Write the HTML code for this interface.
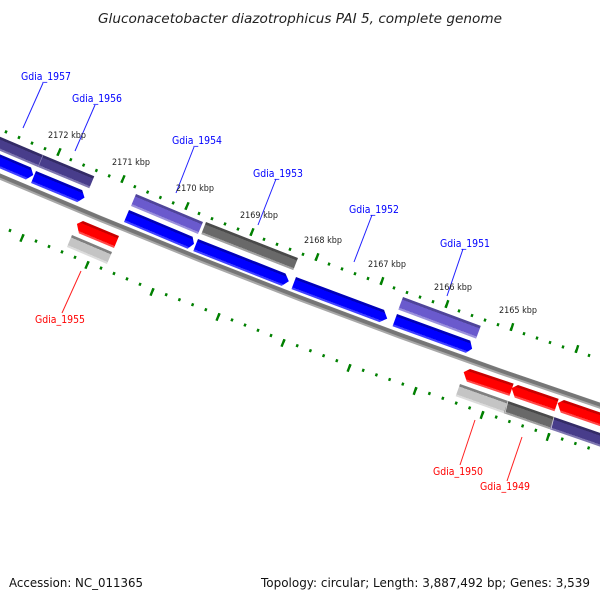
<!DOCTYPE html>
<html><head><meta charset="utf-8">
<style>
html,body{margin:0;padding:0;background:#fff;width:600px;height:600px;overflow:hidden}
svg{display:block}
text{font-family:"DejaVu Sans","Liberation Sans",sans-serif}
.b{fill:#0000ff;font-size:11px}
.r{fill:#ff0000;font-size:11px}
.k{fill:#222;font-size:8.5px}
.f{fill:#111;font-size:12.5px}
.m path{fill:none;stroke:#008000;stroke-width:3;stroke-dasharray:.17 .83;stroke-dashoffset:.085}
</style></head><body>
<svg width="600" height="600" viewBox="0 0 600 600" xmlns="http://www.w3.org/2000/svg">
<defs>
<linearGradient id="gb" x1="0" y1="0" x2="0" y2="1"><stop offset="0" stop-color="#0000b8"/><stop offset=".2" stop-color="#0000b8"/><stop offset=".2" stop-color="#0000ff"/><stop offset=".84" stop-color="#0000ff"/><stop offset=".84" stop-color="#4040ff"/><stop offset="1" stop-color="#4040ff"/></linearGradient>
<linearGradient id="gr" x1="0" y1="0" x2="0" y2="1"><stop offset="0" stop-color="#c80000"/><stop offset=".2" stop-color="#c80000"/><stop offset=".2" stop-color="#ff0000"/><stop offset=".84" stop-color="#ff0000"/><stop offset=".84" stop-color="#ff4848"/><stop offset="1" stop-color="#ff4848"/></linearGradient>
<linearGradient id="gp" x1="0" y1="0" x2="0" y2="1"><stop offset="0" stop-color="#4f4499"/><stop offset=".2" stop-color="#4f4499"/><stop offset=".2" stop-color="#6a5acd"/><stop offset=".84" stop-color="#6a5acd"/><stop offset=".84" stop-color="#9a90dc"/><stop offset="1" stop-color="#9a90dc"/></linearGradient>
<linearGradient id="gd" x1="0" y1="0" x2="0" y2="1"><stop offset="0" stop-color="#332b66"/><stop offset=".2" stop-color="#332b66"/><stop offset=".2" stop-color="#483d8b"/><stop offset=".84" stop-color="#483d8b"/><stop offset=".84" stop-color="#7e76b0"/><stop offset="1" stop-color="#7e76b0"/></linearGradient>
<linearGradient id="gg" x1="0" y1="0" x2="0" y2="1"><stop offset="0" stop-color="#4a4a4a"/><stop offset=".2" stop-color="#4a4a4a"/><stop offset=".2" stop-color="#696969"/><stop offset=".84" stop-color="#696969"/><stop offset=".84" stop-color="#a0a0a0"/><stop offset="1" stop-color="#a0a0a0"/></linearGradient>
<linearGradient id="gl" x1="0" y1="0" x2="0" y2="1"><stop offset="0" stop-color="#808080"/><stop offset=".2" stop-color="#808080"/><stop offset=".2" stop-color="#c4c4c4"/><stop offset=".84" stop-color="#c4c4c4"/><stop offset=".84" stop-color="#dcdcdc"/><stop offset="1" stop-color="#dcdcdc"/></linearGradient>
</defs>

<text x="300" y="23" text-anchor="middle" font-size="13" font-style="italic" fill="#222" textLength="404" lengthAdjust="spacingAndGlyphs">Gluconacetobacter diazotrophicus PAI 5, complete genome</text>

<!-- backbone -->
<polyline points="-5,174.5 100,218.7 200,259.3 300,298.3 400,335.7 500,371.5 600,405.7 610,409" fill="none" stroke="#a8a8a8" stroke-width="6"/>
<polyline points="-5,173.5 100,217.7 200,258.3 300,297.3 400,334.7 500,370.5 600,404.7 610,408" fill="none" stroke="#767676" stroke-width="3.8"/>

<!-- minor ticks -->
<g class="m">
<path pathLength="5" d="M-7,126.3L58,154.3"/>
<path pathLength="5" d="M58,154.3L122,181.3"/>
<path pathLength="5" d="M122,181.3L186,208.3"/>
<path pathLength="5" d="M186,208.3L251,234.3"/>
<path pathLength="5" d="M251,234.3L316,259.3"/>
<path pathLength="5" d="M316,259.3L381,283.3"/>
<path pathLength="5" d="M381,283.3L446,306.3"/>
<path pathLength="5" d="M446,306.3L511,329.3"/>
<path pathLength="5" d="M511,329.3L576,351.3"/>
<path pathLength="5" d="M576,351.3L641,372"/>
<path pathLength="5" d="M-42,209.7L23,235.7"/>
<path pathLength="5" d="M23,235.7L88,262.7"/>
<path pathLength="5" d="M88,262.7L153,289.7"/>
<path pathLength="5" d="M153,289.7L219,314.7"/>
<path pathLength="5" d="M219,314.7L284,340.7"/>
<path pathLength="5" d="M284,340.7L350,365.7"/>
<path pathLength="5" d="M350,365.7L416,388.7"/>
<path pathLength="5" d="M416,388.7L483,412.7"/>
<path pathLength="5" d="M483,412.7L549,434.7"/>
<path pathLength="5" d="M549,434.7L615,456.7"/>
</g>

<!-- major ticks -->
<g stroke="#008000" stroke-width="2.4">
<line x1="60.6" y1="148.3" x2="57.4" y2="155.7"/>
<line x1="124.6" y1="175.3" x2="121.4" y2="182.7"/>
<line x1="188.6" y1="202.3" x2="185.4" y2="209.7"/>
<line x1="253.5" y1="228.3" x2="250.5" y2="235.7"/>
<line x1="318.4" y1="253.3" x2="315.6" y2="260.7"/>
<line x1="383.3" y1="277.2" x2="380.7" y2="284.8"/>
<line x1="448.3" y1="300.2" x2="445.7" y2="307.8"/>
<line x1="513.2" y1="323.2" x2="510.8" y2="330.8"/>
<line x1="578.2" y1="345.2" x2="575.8" y2="352.8"/>
<line x1="23.6" y1="234.3" x2="20.4" y2="241.7"/>
<line x1="88.6" y1="261.3" x2="85.4" y2="268.7"/>
<line x1="153.5" y1="288.3" x2="150.5" y2="295.7"/>
<line x1="219.5" y1="313.3" x2="216.5" y2="320.7"/>
<line x1="284.5" y1="339.3" x2="281.5" y2="346.7"/>
<line x1="350.4" y1="364.3" x2="347.6" y2="371.7"/>
<line x1="416.3" y1="387.2" x2="413.7" y2="394.8"/>
<line x1="483.3" y1="411.2" x2="480.7" y2="418.8"/>
<line x1="549.2" y1="433.2" x2="546.8" y2="440.8"/>
</g>

<!-- upper strand genes -->
<rect transform="translate(43,155) rotate(23)" x="-70" y="0" width="70" height="13" fill="url(#gd)"/>
<rect transform="translate(43,155) rotate(22.5)" x="0" y="0" width="55.5" height="13" fill="url(#gd)"/>
<line x1="43" y1="155" x2="38" y2="167" stroke="#8f88bb" stroke-width="0.7"/>
<rect transform="translate(136,194) rotate(22.7)" width="72.6" height="13" fill="url(#gp)"/>
<rect transform="translate(206,222) rotate(21.4)" width="98.8" height="13" fill="url(#gg)"/>
<rect transform="translate(403,297) rotate(20.4)" width="83" height="13.5" fill="url(#gp)"/>

<polygon transform="translate(31,167.5) rotate(23)" points="-60,0 0,0 5,6 0,13 -60,13" fill="url(#gb)"/>
<polygon transform="translate(36,171) rotate(22.5)" points="0,0 50,0 55,6 50,13 0,13" fill="url(#gb)"/>
<polygon transform="translate(129,210) rotate(22.8)" points="0,0 69,0 73,6 69,13 0,13" fill="url(#gb)"/>
<polygon transform="translate(198,239) rotate(21.5)" points="0,0 94,0 100,6 95,13 0,13" fill="url(#gb)"/>
<polygon transform="translate(296,277) rotate(20.5)" points="0,0 94,0 100,7 94,13 0,13" fill="url(#gb)"/>
<polygon transform="translate(397,314) rotate(20)" points="0,0 78,0 82.5,7 78,13 0,13" fill="url(#gb)"/>

<!-- lower strand genes -->
<polygon transform="translate(83,221) rotate(22.6)" points="0,0 39,0 39,13 1,13 -4.5,5" fill="url(#gr)"/>
<polygon transform="translate(470,369) rotate(18.5)" points="0,0 46,0 46,13 1,13 -5,5" fill="url(#gr)"/>
<polygon transform="translate(518,385) rotate(18.9)" points="0,0 43,0 43,13 1,13 -5,5" fill="url(#gr)"/>
<polygon transform="translate(564,400) rotate(19)" points="0,0 45,0 45,13 1,13 -5,5" fill="url(#gr)"/>

<rect transform="translate(72,235) rotate(23)" width="43.5" height="13" fill="url(#gl)"/>
<rect transform="translate(460,384) rotate(19.5)" width="51" height="13" fill="url(#gl)"/>
<rect transform="translate(508,401) rotate(19.2)" width="48.7" height="13" fill="url(#gg)"/>
<rect transform="translate(554,417) rotate(19)" width="60" height="13" fill="url(#gd)"/>
<line x1="508" y1="401" x2="505" y2="413" stroke="#dcdcdc" stroke-width="0.7"/>
<line x1="554" y1="417" x2="551" y2="429" stroke="#dcdcdc" stroke-width="0.7"/>

<!-- leaders -->
<g stroke="#2020ff" stroke-width="1">
<line x1="43" y1="83" x2="23" y2="128"/>
<line x1="95" y1="105" x2="75" y2="151"/>
<line x1="194" y1="147" x2="176" y2="193"/>
<line x1="276" y1="179" x2="258" y2="225"/>
<line x1="372" y1="215" x2="354" y2="262"/>
<line x1="463" y1="249" x2="447" y2="296"/>
</g>
<g stroke="#ff2020" stroke-width="1">
<line x1="81" y1="271" x2="62" y2="313"/>
<line x1="475" y1="420" x2="460" y2="465"/>
<line x1="522" y1="437" x2="507" y2="481"/>
</g>

<!-- labels -->
<text class="b" x="21" y="80" textLength="50" lengthAdjust="spacingAndGlyphs">Gdia_1957</text>
<text class="b" x="72" y="102" textLength="50" lengthAdjust="spacingAndGlyphs">Gdia_1956</text>
<text class="b" x="172" y="144" textLength="50" lengthAdjust="spacingAndGlyphs">Gdia_1954</text>
<text class="b" x="253" y="177" textLength="50" lengthAdjust="spacingAndGlyphs">Gdia_1953</text>
<text class="b" x="349" y="213" textLength="50" lengthAdjust="spacingAndGlyphs">Gdia_1952</text>
<text class="b" x="440" y="247" textLength="50" lengthAdjust="spacingAndGlyphs">Gdia_1951</text>
<text class="r" x="35" y="323" textLength="50" lengthAdjust="spacingAndGlyphs">Gdia_1955</text>
<text class="r" x="433" y="475" textLength="50" lengthAdjust="spacingAndGlyphs">Gdia_1950</text>
<text class="r" x="480" y="490" textLength="50" lengthAdjust="spacingAndGlyphs">Gdia_1949</text>

<text class="k" x="48" y="138" textLength="38" lengthAdjust="spacingAndGlyphs">2172 kbp</text>
<text class="k" x="112" y="165" textLength="38" lengthAdjust="spacingAndGlyphs">2171 kbp</text>
<text class="k" x="176" y="191" textLength="38" lengthAdjust="spacingAndGlyphs">2170 kbp</text>
<text class="k" x="240" y="218" textLength="38" lengthAdjust="spacingAndGlyphs">2169 kbp</text>
<text class="k" x="304" y="243" textLength="38" lengthAdjust="spacingAndGlyphs">2168 kbp</text>
<text class="k" x="368" y="267" textLength="38" lengthAdjust="spacingAndGlyphs">2167 kbp</text>
<text class="k" x="434" y="290" textLength="38" lengthAdjust="spacingAndGlyphs">2166 kbp</text>
<text class="k" x="499" y="313" textLength="38" lengthAdjust="spacingAndGlyphs">2165 kbp</text>

<text class="f" x="9" y="587" textLength="134" lengthAdjust="spacingAndGlyphs">Accession: NC_011365</text>
<text class="f" x="261" y="587" textLength="329" lengthAdjust="spacingAndGlyphs">Topology: circular; Length: 3,887,492 bp; Genes: 3,539</text>
</svg>
</body></html>
